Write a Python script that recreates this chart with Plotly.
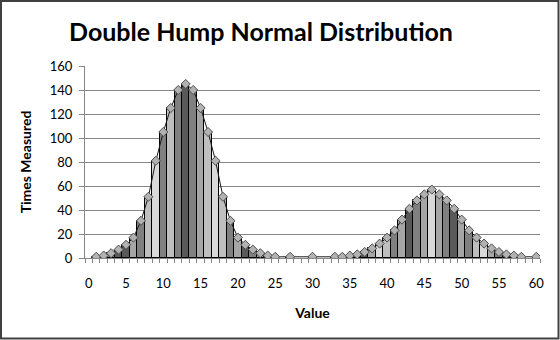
import plotly.graph_objects as go

# ---- data ----
values = [1, 2, 3, 4, 5, 6, 7, 8, 9, 10, 11, 12, 13, 14, 15, 16, 17, 18, 19, 20,
          21, 22, 23, 24, 25, 27, 30,
          33, 34, 35, 36, 37, 38, 39, 40, 41, 42, 43, 44, 45, 46, 47, 48, 49, 50,
          51, 52, 53, 54, 55, 56, 57, 58, 60]
times_measured = [1, 2, 4, 7, 11, 17, 31, 51, 81, 105, 125, 140, 145, 140, 125, 105, 81, 51, 31, 17,
                  11, 7, 4, 2, 1, 1, 1,
                  1, 1, 2, 3, 5, 8, 12, 17, 23, 32, 41, 48, 53, 57, 53, 48, 41, 32,
                  23, 17, 12, 8, 5, 3, 2, 1, 1]
x_tick_vals = [0, 5, 10, 15, 20, 25, 30, 35, 40, 45, 50, 55, 60]
y_tick_vals = [0, 20, 40, 60, 80, 100, 120, 140, 160]

# ---- style: bar shades (vary colors by point) ----
D, G, M, L, V = "#595959", "#808080", "#A6A6A6", "#BFBFBF", "#D9D9D9"
bar_colors = [G, M, G, D, D, M, G, L, V, G, L, G, D, G, M, L, V, L, G, M,
              D, G, M, G, L, G, M,
              G, M, D, L, D, M, V, L, G, M, D, G, M, V, M, G, D, M,
              G, L, V, M, G, D, G, M, G]

W, H = 560, 340
ml, mr, mt, mb = 85, 20, 66, 82
pw, ph = W - ml - mr, H - mt - mb
bottom_px = H - mb

fig = go.Figure()
fig.add_trace(go.Bar(
    x=values, y=times_measured, width=1,
    marker=dict(color=bar_colors, line=dict(color="#000000", width=1)),
    showlegend=False, hoverinfo="x+y",
))
fig.add_trace(go.Scatter(
    x=values, y=times_measured, mode="lines+markers",
    line=dict(color="#1a1a1a", width=1),
    marker=dict(symbol="diamond", size=7, color="#B2B2B2",
                line=dict(color="#4d4d4d", width=1)),
    showlegend=False,
))

font_family = "Lato, 'Open Sans', sans-serif"
fig.update_layout(
    width=W, height=H,
    margin=dict(l=ml, r=mr, t=mt, b=mb),
    paper_bgcolor="white", plot_bgcolor="white",
    bargap=0,
    font=dict(family=font_family, size=13, color="#000000"),
    title=dict(text="<b>Double Hump Normal Distribution</b>",
               font=dict(family=font_family, size=25, color="#000000"),
               x=261 / W, xanchor="center", y=1 - 32 / H, yanchor="middle"),
)
fig.update_xaxes(
    range=[-0.5, 60.5], tickmode="array", tickvals=x_tick_vals,
    ticks="", showgrid=False, zeroline=False,
    showline=True, linecolor="#868686", linewidth=1,
    ticklabelstandoff=13,
    tickfont=dict(size=13),
    minor=dict(ticks="outside", tick0=0.5, dtick=1, ticklen=4,
               tickcolor="#868686", tickwidth=1, showgrid=False),
    title=dict(text="<b>Value</b>", font=dict(size=14), standoff=18),
)
fig.update_yaxes(
    range=[0, 160], tickmode="array", tickvals=y_tick_vals,
    ticks="outside", ticklen=5, tickcolor="#868686",
    showgrid=True, gridcolor="#868686", gridwidth=1, zeroline=False,
    showline=True, linecolor="#868686", linewidth=1,
    ticklabelstandoff=4, tickfont=dict(size=13),
    title=dict(text="<b>Times Measured</b>", font=dict(size=14), standoff=14),
)
# outer chart border
fig.add_shape(type="rect", xref="paper", yref="paper",
              x0=(1 - ml) / pw, x1=(W - 1.5 - ml) / pw,
              y0=(bottom_px - (H - 1.5)) / ph, y1=(bottom_px - 1) / ph,
              line=dict(color="#404040", width=2), fillcolor="rgba(0,0,0,0)",
              layer="above")

fig.write_html("out.html")
